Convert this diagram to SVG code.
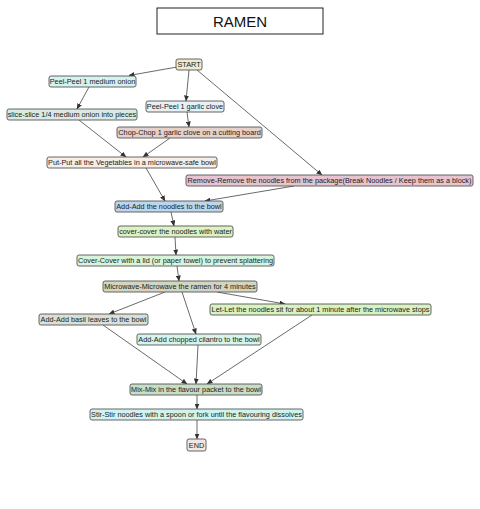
<svg xmlns="http://www.w3.org/2000/svg" width="480" height="509" viewBox="0 0 480 509">
<style>
.n rect{stroke:#555;stroke-width:0.9}
.n text{font-family:"Liberation Sans",Arial,sans-serif;font-size:7.3px;fill:#222;text-anchor:middle;dominant-baseline:central}
#edges line{stroke:#444;stroke-width:0.8;marker-end:url(#ah)}
</style>
<defs>
<marker id="ah" markerUnits="userSpaceOnUse" markerWidth="6" markerHeight="5" refX="5.5" refY="2.5" orient="auto">
<path d="M0,0 L6,2.5 L0,5 z" fill="#333"/>
</marker>
</defs>
<rect width="480" height="509" fill="#fff"/>
<g id="title">
<rect x="157" y="8" width="166" height="26" fill="#fff" stroke="#222" stroke-width="1"/>
<text x="240" y="21.5" font-family="Liberation Sans,Arial,sans-serif" font-size="15" fill="#111" text-anchor="middle" dominant-baseline="central">RAMEN</text>
</g>
<g id="edges">
<line x1="177" y1="67" x2="129" y2="75.5"/>
<line x1="189" y1="70" x2="186" y2="101"/>
<line x1="197" y1="70" x2="322" y2="175"/>
<line x1="89" y1="87" x2="77" y2="109"/>
<line x1="187" y1="112" x2="189" y2="127"/>
<line x1="79" y1="120" x2="126" y2="157"/>
<line x1="170" y1="138" x2="143" y2="157"/>
<line x1="146" y1="168" x2="165" y2="201"/>
<line x1="294" y1="186" x2="205" y2="201"/>
<line x1="171" y1="212" x2="174" y2="226"/>
<line x1="175" y1="237" x2="176" y2="255"/>
<line x1="177" y1="266" x2="179" y2="281"/>
<line x1="165" y1="292" x2="109" y2="314"/>
<line x1="182" y1="292" x2="196" y2="334"/>
<line x1="217" y1="292" x2="285" y2="304"/>
<line x1="103" y1="325" x2="187" y2="384"/>
<line x1="198" y1="345" x2="196" y2="384"/>
<line x1="312" y1="315" x2="207" y2="384"/>
<line x1="197" y1="395" x2="197" y2="409"/>
<line x1="197" y1="420" x2="197" y2="439"/>
</g>
<g id="start" class="n"><rect x="176" y="59" width="26" height="11" rx="2" fill="#ebebd0"/><text x="189" y="64.5">START</text></g>
<g id="peel-onion" class="n"><rect x="49" y="76" width="87" height="11" rx="2" fill="#d6f2ee"/><text x="92.5" y="81.5">Peel-Peel 1 medium onion</text></g>
<g id="slice" class="n"><rect x="7" y="109" width="130" height="11" rx="2" fill="#d9ebe0"/><text x="72" y="114.5">slice-slice 1/4 medium onion into pieces</text></g>
<g id="peel-garlic" class="n"><rect x="146" y="101" width="78" height="11" rx="2" fill="#e6f0f5"/><text x="185" y="106.5">Peel-Peel 1 garlic clove</text></g>
<g id="chop" class="n"><rect x="117" y="127" width="145" height="11" rx="2" fill="#e5d0ca"/><text x="189.5" y="132.5">Chop-Chop 1 garlic clove on a cutting board</text></g>
<g id="put" class="n"><rect x="47" y="157" width="170" height="11" rx="2" fill="#f6eee6"/><text x="132" y="162.5">Put-Put all the Vegetables in a microwave-safe bowl</text></g>
<g id="remove" class="n"><rect x="186" y="175" width="287" height="11" rx="2" fill="#e7c4cf"/><text x="329.5" y="180.5">Remove-Remove the noodles from the package(Break Noodles / Keep them as a block)</text></g>
<g id="add-noodles" class="n"><rect x="115" y="201" width="108" height="11" rx="2" fill="#bdd6ec"/><text x="169" y="206.5">Add-Add the noodles to the bowl</text></g>
<g id="cover-water" class="n"><rect x="118" y="226" width="115" height="11" rx="2" fill="#ddf2c2"/><text x="175.5" y="231.5">cover-cover the noodles with water</text></g>
<g id="cover-lid" class="n"><rect x="77" y="255" width="197" height="11" rx="2" fill="#d8f5dc"/><text x="175.5" y="260.5">Cover-Cover with a lid (or paper towel) to prevent splattering</text></g>
<g id="microwave" class="n"><rect x="103" y="281" width="154" height="11" rx="2" fill="#d0d6c0"/><text x="180" y="286.5">Microwave-Microwave the ramen for 4 minutes</text></g>
<g id="let" class="n"><rect x="210" y="304" width="221" height="11" rx="2" fill="#d8f2c2"/><text x="320.5" y="309.5">Let-Let the noodles sit for about 1 minute after the microwave stops</text></g>
<g id="basil" class="n"><rect x="39" y="314" width="109" height="11" rx="2" fill="#dae0d6"/><text x="93.5" y="319.5">Add-Add basil leaves to the bowl</text></g>
<g id="cilantro" class="n"><rect x="137" y="334" width="124" height="11" rx="2" fill="#d6f4ec"/><text x="199" y="339.5">Add-Add chopped cilantro to the bowl</text></g>
<g id="mix" class="n"><rect x="130" y="384" width="132" height="11" rx="2" fill="#c6ddc6"/><text x="196" y="389.5">Mix-Mix in the flavour packet to the bowl</text></g>
<g id="stir" class="n"><rect x="90" y="409" width="213" height="11" rx="2" fill="#cff4f0"/><text x="196.5" y="414.5">Stir-Stir noodles with a spoon or fork until the flavouring dissolves</text></g>
<g id="end" class="n"><rect x="187" y="439" width="19" height="12" rx="2" fill="#f2e6e2"/><text x="196.5" y="445">END</text></g>
</svg>
